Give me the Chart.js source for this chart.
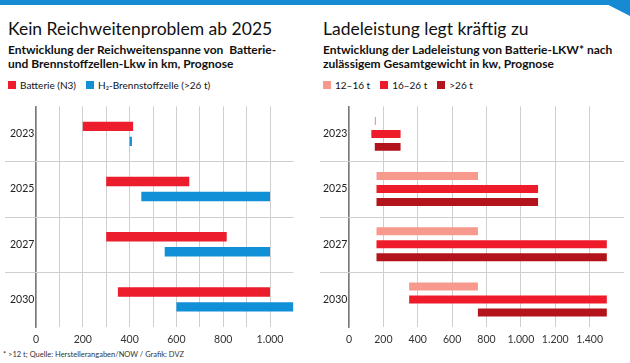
<!DOCTYPE html>
<html><head><meta charset="utf-8">
<script src="https://cdn.jsdelivr.net/npm/chart.js@4.4.1/dist/chart.umd.min.js"></script>
<style>
body{margin:0;width:630px;height:363px;overflow:hidden;background:#fff;font-family:Lato,sans-serif;position:relative;color:#111}
.band{position:absolute;left:0;top:0;width:630px;height:5px;background:#168ad3}
.corner{position:absolute;right:0;top:0;width:24px;height:16px;background:#168ad3;clip-path:polygon(0 0,100% 0,100% 100%,8% 30%)}
.title{position:absolute;top:20px;font-size:17.5px;line-height:18px;font-weight:400;white-space:nowrap}
.sub{position:absolute;top:43px;font-size:12px;line-height:14px;font-weight:700;white-space:pre}
.legend{position:absolute;top:79px;font-size:10px;line-height:12px;white-space:nowrap;display:flex;gap:10px}
.legend span{display:inline-flex;align-items:center}
.legend i{display:inline-block;width:8px;height:8px;margin-right:4px}
.foot{position:absolute;left:3px;top:350px;font-size:7.5px;line-height:10px;color:#333;white-space:nowrap}
.cw{position:absolute;top:100px;width:315px;height:250px}
</style></head>
<body>
<div class="band"></div><div class="corner"></div>
<div class="title" style="left:8px">Kein Reichweitenproblem ab 2025</div>
<div class="sub" style="left:8px">Entwicklung der Reichweitenspanne von  Batterie-
und Brennstoffzellen-Lkw in km, Prognose</div>
<div class="legend" style="left:8px" id="legL"></div>
<div class="title" style="left:323px">Ladeleistung legt kräftig zu</div>
<div class="sub" style="left:323px">Entwicklung der Ladeleistung von Batterie-LKW* nach
zulässigem Gesamtgewicht in kw, Prognose</div>
<div class="legend" style="left:323px" id="legR"></div>
<div class="cw" style="left:0"><canvas id="cL"></canvas></div>
<div class="cw" style="left:315px"><canvas id="cR"></canvas></div>
<div class="foot">* &gt;12 t; Quelle: Herstellerangaben/NOW / Grafik: DVZ</div>
<script>
// ---- data ----
const years = ['2023', '2025', '2027', '2030'];
// Reichweite (km): [von, bis]
const batterieN3 = [[200, 415], [300, 655], [300, 815], [350, 1000]];
const h2Brennstoff = [[400, 410], [450, 1000], [550, 1000], [600, 1100]];
// Ladeleistung (kW): [von, bis]
const t12bis16 = [[150, 157], [160, 750], [160, 750], [350, 750]];
const t16bis26 = [[130, 300], [160, 1100], [160, 1500], [350, 1500]];
const tUeber26 = [[150, 300], [160, 1100], [160, 1500], [750, 1500]];
const leftLabelTicks = [0, 200, 400, 600, 800, 1000];
const rightLabelTicks = [0, 200, 400, 600, 800, 1000, 1200, 1400];
const leftLegend = ['Batterie (N3)', 'H₂-Brennstoffzelle (>26 t)'];
const rightLegend = ['12–16 t', '16–26 t', '>26 t'];

const C_RED = '#ec1d2c', C_BLUE = '#1190d8', C_SALMON = '#f7998c', C_RED2 = '#ee1c2b', C_DARK = '#b3141b';

function fmt(v){ return String(v).replace(/\B(?=(\d{3})+(?!\d))/g, '.'); }

function legend(id, names, colors){
  const el = document.getElementById(id);
  names.forEach((n, i) => {
    const s = document.createElement('span');
    const b = document.createElement('i'); b.style.background = colors[i];
    s.appendChild(b); s.appendChild(document.createTextNode(n));
    el.appendChild(s);
  });
}
legend('legL', leftLegend, [C_RED, C_BLUE]);
legend('legR', rightLegend, [C_SALMON, C_RED2, C_DARK]);

const separators = {
  id: 'separators',
  beforeDatasetsDraw(chart){
    const y = chart.scales.y, ctx = chart.ctx, ca = chart.chartArea;
    ctx.save(); ctx.strokeStyle = '#cfcfcf'; ctx.lineWidth = 1;
    for (let i = 0; i < years.length - 1; i++){
      const p = Math.round((y.getPixelForTick(i) + y.getPixelForTick(i + 1)) / 2) + 0.5;
      ctx.beginPath(); ctx.moveTo(5, p); ctx.lineTo(ca.right, p); ctx.stroke();
    }
    ctx.restore();
  }
};

function makeChart(id, datasets, max, step, labelTicks, padLeft, yWidth, padRight, catPct, barPct){
  return new Chart(document.getElementById(id), {
    type: 'bar',
    data: { labels: years, datasets: datasets.map(d => Object.assign({
      borderWidth: 0, borderSkipped: false, categoryPercentage: catPct, barPercentage: barPct
    }, d)) },
    options: {
      indexAxis: 'y', responsive: true, maintainAspectRatio: false, animation: false,
      layout: { padding: { top: 6, right: padRight, left: padLeft, bottom: 0 } },
      plugins: { legend: { display: false }, tooltip: { enabled: false } },
      scales: {
        x: {
          min: 0, max: max,
          ticks: { stepSize: step, autoSkip: false, maxRotation: 0, padding: 6,
            color: '#333', font: { family: 'Lato', size: 10.5 },
            callback: v => labelTicks.includes(v) ? fmt(v) : '' },
          grid: { drawTicks: false, lineWidth: 1,
            color: c => (c.tick && c.tick.value > labelTicks[labelTicks.length - 1]) ? 'rgba(0,0,0,0)' : '#cfcfcf' },
          border: { display: false },
          afterFit: s => { s.height = 23; }
        },
        y: {
          grid: { display: false },
          border: { display: true, color: '#7a7a7a', width: 1.5 },
          ticks: { crossAlign: 'far', padding: 0, color: '#222', font: { family: 'Lato', size: 10.5 } },
          afterFit: s => { s.width = yWidth; }
        }
      }
    },
    plugins: [separators]
  });
}

makeChart('cL', [
  { label: leftLegend[0], data: batterieN3, backgroundColor: C_RED },
  { label: leftLegend[1], data: h2Brennstoff, backgroundColor: C_BLUE }
], 1100, 100, leftLabelTicks, 10, 26, 21.6, 0.543, 0.63);

makeChart('cR', [
  { label: rightLegend[0], data: t12bis16, backgroundColor: C_SALMON },
  { label: rightLegend[1], data: t16bis26, backgroundColor: C_RED2 },
  { label: rightLegend[2], data: tUeber26, backgroundColor: C_DARK }
], 1600, 200, rightLabelTicks, 8, 26, 3.5, 0.706, 0.615);
</script>
</body></html>
